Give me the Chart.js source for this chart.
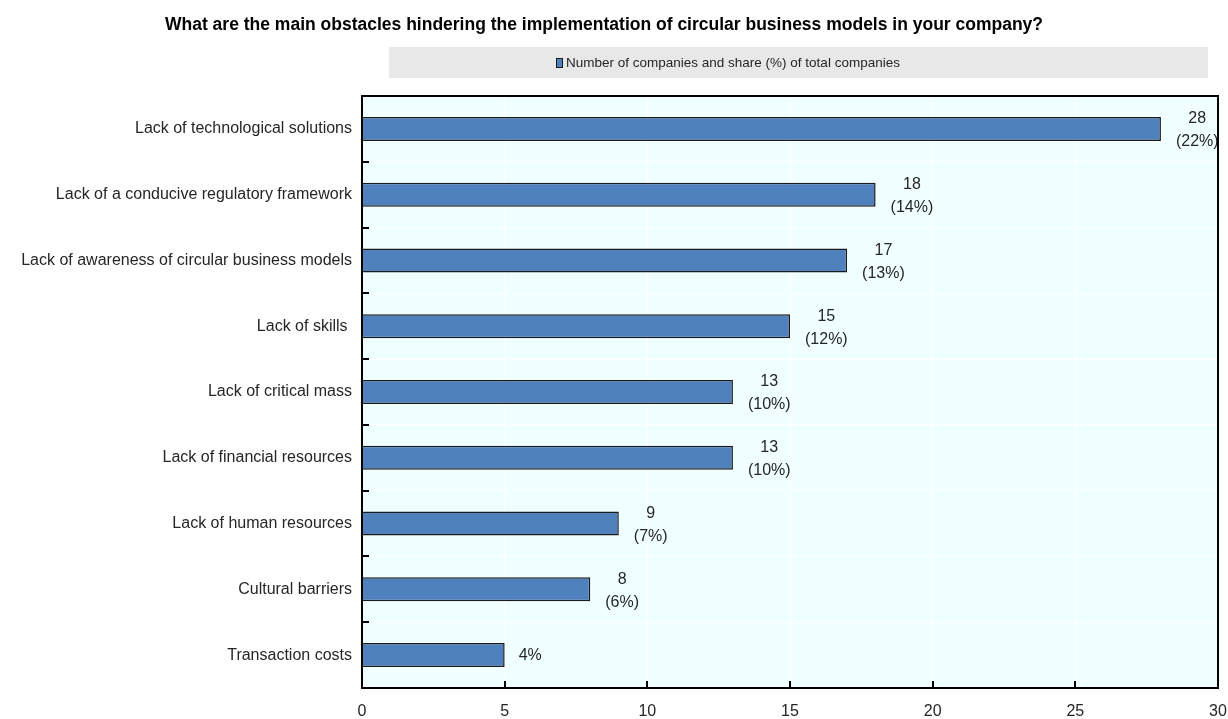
<!DOCTYPE html>
<html>
<head>
<meta charset="utf-8">
<script src="https://cdn.jsdelivr.net/npm/chart.js@4.4.1/dist/chart.umd.min.js"></script>
<style>
  html, body { margin: 0; padding: 0; background: #fff; }
</style>
</head>
<body>
<canvas id="obstacles" width="1228" height="719"></canvas>
<script>
// survey answers, top to bottom
const obstacles = [
  "Lack of technological solutions",
  "Lack of a conducive regulatory framework",
  "Lack of awareness of circular business models",
  "Lack of skills ",
  "Lack of critical mass",
  "Lack of financial resources",
  "Lack of human resources",
  "Cultural barriers",
  "Transaction costs"
];
const companies = [28, 18, 17, 15, 13, 13, 9, 8, 5];
const sharePct = [22, 14, 13, 12, 10, 10, 7, 6, 4];
const showCount = [true, true, true, true, true, true, true, true, false];
const xTicks = [0, 5, 10, 15, 20, 25, 30];

const TITLE = "What are the main obstacles hindering the implementation of circular business models in your company?";
const LEGEND = "Number of companies and share (%) of total companies";

const FONT = '"Liberation Sans Narrow", "Arial Narrow", "Liberation Sans", Arial, sans-serif';
const TEXT = "#262626";
const BAR = "#4F81BD";

// plot background, title, legend strip, value labels, frame and inner ticks
const decor = {
  id: "decor",
  beforeDraw(chart) {
    const { ctx, chartArea: a } = chart;
    ctx.save();
    ctx.fillStyle = "#F0FFFF";
    ctx.fillRect(a.left, a.top, a.right - a.left, a.bottom - a.top);
    ctx.restore();
  },
  afterDatasetsDraw(chart) {
    const { ctx } = chart;
    const meta = chart.getDatasetMeta(0);
    ctx.save();
    ctx.fillStyle = TEXT;
    ctx.font = "16px " + FONT;
    ctx.textBaseline = "middle";
    meta.data.forEach((bar, i) => {
      const x0 = bar.x + 15;
      const share = "(" + sharePct[i] + "%)";
      if (showCount[i]) {
        const w = Math.max(ctx.measureText(share).width, ctx.measureText(String(companies[i])).width);
        ctx.textAlign = "center";
        ctx.fillText(String(companies[i]), x0 + w / 2, bar.y - 10);
        ctx.fillText(share, x0 + w / 2, bar.y + 13);
      } else {
        ctx.textAlign = "left";
        ctx.fillText(sharePct[i] + "%", x0 - 1, bar.y);
      }
    });
    ctx.restore();
  },
  afterDraw(chart) {
    const { ctx, chartArea: a } = chart;
    const x = chart.scales.x;
    ctx.save();

    // title
    ctx.fillStyle = "#000";
    ctx.font = "bold 17.5px " + FONT;
    ctx.textAlign = "center";
    ctx.textBaseline = "middle";
    ctx.fillText(TITLE, 604, 25);

    // legend strip
    ctx.fillStyle = "#E8E8E8";
    ctx.fillRect(389, 47, 819, 31);
    ctx.fillStyle = BAR;
    ctx.strokeStyle = "#1a1a1a";
    ctx.lineWidth = 1;
    ctx.fillRect(556, 58, 6, 9);
    ctx.strokeRect(556.5, 58.5, 6, 9);
    ctx.fillStyle = TEXT;
    ctx.font = "13.5px " + FONT;
    ctx.textAlign = "left";
    ctx.fillText(LEGEND, 566, 63);

    // frame
    ctx.strokeStyle = "#000";
    ctx.lineWidth = 2;
    ctx.strokeRect(a.left, a.top, a.right - a.left, a.bottom - a.top);

    // inner tick marks
    ctx.beginPath();
    const step = (a.bottom - a.top) / obstacles.length;
    for (let i = 1; i < obstacles.length; i++) {
      const yy = Math.round(a.top + step * i);
      ctx.moveTo(a.left, yy);
      ctx.lineTo(a.left + 7, yy);
    }
    xTicks.slice(1, -1).forEach(v => {
      const xx = Math.round(x.getPixelForValue(v));
      ctx.moveTo(xx, a.bottom);
      ctx.lineTo(xx, a.bottom - 7);
    });
    ctx.stroke();
    ctx.restore();
  }
};

new Chart(document.getElementById("obstacles"), {
  type: "bar",
  data: {
    labels: obstacles,
    datasets: [{
      label: LEGEND,
      data: companies,
      backgroundColor: BAR,
      borderColor: "#1a1a1a",
      borderWidth: 1.5,
      barPercentage: 0.365,
      categoryPercentage: 1
    }]
  },
  options: {
    indexAxis: "y",
    responsive: false,
    animation: false,
    devicePixelRatio: 1,
    layout: { padding: { top: 96, right: 10, left: 0, bottom: 0 } },
    plugins: {
      legend: { display: false },
      title: { display: false },
      tooltip: { enabled: false }
    },
    scales: {
      x: {
        min: xTicks[0],
        max: xTicks[xTicks.length - 1],
        ticks: {
          stepSize: xTicks[1] - xTicks[0],
          color: TEXT,
          font: { family: FONT, size: 16 },
          padding: 14
        },
        grid: { color: "#ffffff", lineWidth: 1, drawTicks: false },
        border: { display: false },
        afterFit(scale) {
          scale.height = 31;
          scale.paddingLeft = 0;
          scale.paddingRight = 0;
        }
      },
      y: {
        ticks: {
          color: TEXT,
          font: { family: FONT, size: 16 },
          padding: 10
        },
        grid: { color: "#ffffff", lineWidth: 1, offset: true, drawTicks: false },
        border: { display: false },
        afterFit(scale) { scale.width = 362; }
      }
    }
  },
  plugins: [decor]
});
</script>
</body>
</html>
